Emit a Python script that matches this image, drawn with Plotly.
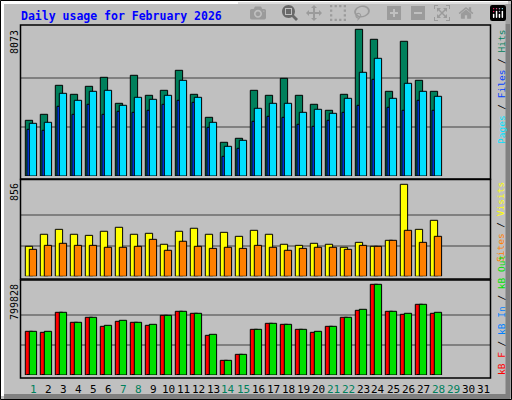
import plotly.graph_objects as go

days = list(range(1, 29))
day_labels = [str(d) for d in range(1, 32)]
weekend_days = [1, 7, 8, 14, 15, 21, 22, 28, 29]

hits = [3065, 3395, 4991, 4496, 4936, 5431, 4001, 5542, 4441, 4716, 5817, 4496, 3230, 1855,
        2075, 4716, 4441, 5376, 4441, 3946, 3616, 4496, 8073, 7523, 4661, 7413, 5266, 4661]
pages = [2900, 2955, 4551, 4166, 4661, 4716, 3891, 4331, 4221, 4441, 5266, 4331, 2955, 1634,
         1965, 3726, 4001, 4001, 3505, 3671, 3450, 4276, 5707, 6477, 4276, 5101, 4661, 4386]
files = [2570, 2515, 3836, 3395, 3946, 3395, 3560, 3505, 3616, 3946, 4166, 4056, 2680, 1084,
         1524, 3010, 3285, 3230, 2845, 2735, 3065, 3505, 3891, 5321, 3781, 3616, 4166, 3616]
visits = [279, 391, 437, 391, 381, 419, 456, 391, 400, 298, 419, 447, 391, 409,
          372, 428, 391, 298, 288, 307, 298, 270, 316, 279, 335, 856, 437, 521]
sites = [251, 288, 307, 288, 288, 270, 270, 279, 344, 242, 326, 279, 260, 270,
         260, 288, 270, 242, 260, 270, 270, 251, 288, 279, 335, 428, 316, 372]
kb_f = [385206, 376384, 552814, 464599, 508707, 429313, 473421, 464599, 438135, 526350,
        561636, 543993, 349920, 129382, 182311, 402849, 455778, 446956, 402849, 376384,
        429313, 508707, 570457, 799828, 561636, 535171, 623386, 543993]
kb_out = [385206, 385206, 552814, 464599, 508707, 438135, 482242, 464599, 446956, 526350,
          561636, 543993, 358741, 129382, 182311, 402849, 455778, 446956, 402849, 385206,
          429313, 508707, 579279, 799828, 561636, 543993, 623386, 552814]
kb_in = [3000] * 28

W, H = 512, 400
def px(x): return x / W
def py(y): return 1 - y / H

fig = go.Figure()
def bar(y, color, off, wid, xa, ya):
    fig.add_trace(go.Bar(x=days, y=y, marker=dict(color=color, line=dict(color="black", width=1)),
                         offset=off, width=wid, xaxis=xa, yaxis=ya, showlegend=False,
                         hoverinfo="skip"))

bar(hits, "#00805C", -0.513, 0.487, "x", "y")
bar(files, "#0040FF", -0.40, 0.17, "x", "y")
bar(pages, "#00E0FF", -0.247, 0.487, "x", "y")
bar(visits, "#FFFF00", -0.513, 0.487, "x2", "y2")
bar(sites, "#FF8000", -0.247, 0.487, "x2", "y2")
bar(kb_f, "#FF0000", -0.513, 0.487, "x3", "y3")
bar(kb_in, "#0080FF", -0.40, 0.17, "x3", "y3")
bar(kb_out, "#00E000", -0.247, 0.487, "x3", "y3")

xr = [(20 - 18) / 15, (490.7 - 18) / 15]
xdom = [px(20), px(490.7)]
mx1, mx2, mx3 = max(hits), max(visits), max(kb_f)
panels = [
    ("", mx1, 176, 25, 146.7),
    ("2", mx2, 276.3, 180, 92),
    ("3", mx3, 375, 280.7, 90.7),
]
lay = dict(width=W, height=H, autosize=False, margin=dict(l=0, r=0, t=0, b=0),
           paper_bgcolor="#C0C0C0", plot_bgcolor="rgba(0,0,0,0)", barmode="overlay",
           showlegend=False)
for s, mx, base, top, hpx in panels:
    ya = "y" + s
    lay["xaxis" + s] = dict(domain=xdom, range=xr, visible=False, anchor=ya)
    rng_top = mx * (base - top) / hpx
    lay["yaxis" + s] = dict(domain=[py(base), py(top)], range=[0, rng_top],
                            tickvals=[mx / 3, 2 * mx / 3], showticklabels=False,
                            gridcolor="#808080", gridwidth=1.5, zeroline=False,
                            showline=False, anchor="x" + s)
fig.update_layout(**lay)

shapes = []
shapes.append(dict(type="rect", xref="paper", yref="paper", x0=px(0.5), x1=px(511.5),
                   y0=py(399.5), y1=py(0.5), line=dict(color="black", width=1)))
shapes.append(dict(type="line", xref="paper", yref="paper", x0=px(1), x1=px(508), y0=py(2.5), y1=py(2.5), line=dict(color="white", width=3)))
shapes.append(dict(type="line", xref="paper", yref="paper", x0=px(2.5), x1=px(2.5), y0=py(1), y1=py(396), line=dict(color="white", width=3)))
shapes.append(dict(type="line", xref="paper", yref="paper", x0=px(508), x1=px(508), y0=py(4), y1=py(398), line=dict(color="#808080", width=5)))
shapes.append(dict(type="line", xref="paper", yref="paper", x0=px(4), x1=px(510), y0=py(396.5), y1=py(396.5), line=dict(color="#808080", width=5)))
for top, bot in [(25, 179), (179.5, 279), (280, 378)]:
    shapes.append(dict(type="rect", xref="paper", yref="paper", x0=px(20.5), x1=px(490.5),
                       y0=py(bot), y1=py(top), line=dict(color="black", width=1.5)))
fig.update_layout(shapes=shapes)

mono = "DejaVu Sans Mono"
ann = []
ann.append(dict(text="<b>Daily usage for February 2026</b>", x=px(19), y=py(16), xref="paper", yref="paper",
                xanchor="left", yanchor="middle", showarrow=False, font=dict(family=mono, size=11.5, color="#0000FF")))
for txt, ytop in [(str(mx1), 28), (str(mx2), 181), (str(mx3), 282)]:
    ann.append(dict(text=txt, x=px(14), y=py(ytop), xref="paper", yref="paper", textangle=-90,
                    xanchor="center", yanchor="top", showarrow=False, font=dict(family=mono, size=10, color="black")))
ann.append(dict(text='<span style="color:#00E0FF">Pages</span> / <span style="color:#0040FF">Files</span> / <span style="color:#00805C">Hits</span>',
                x=px(501), y=py(28), xref="paper", yref="paper", textangle=-90, xanchor="center", yanchor="top",
                showarrow=False, font=dict(family=mono, size=9.5, color="black")))
ann.append(dict(text='<span style="color:#FF8000">Sites</span> / <span style="color:#FFFF00">Visits</span>',
                x=px(501), y=py(180), xref="paper", yref="paper", textangle=-90, xanchor="center", yanchor="top",
                showarrow=False, font=dict(family=mono, size=9.5, color="black")))
ann.append(dict(text='<span style="color:#FF0000">kB F</span> / <span style="color:#0080FF">kB In</span> / <span style="color:#00E000">kB Out</span>',
                x=px(501), y=py(377), xref="paper", yref="paper", textangle=-90, xanchor="center", yanchor="bottom",
                showarrow=False, font=dict(family=mono, size=9.5, color="black")))
for i, lab in enumerate(day_labels):
    d = i + 1
    ann.append(dict(text=lab, x=d, y=py(389), xref="x3", yref="paper", xanchor="center", yanchor="middle",
                    showarrow=False, font=dict(family=mono, size=11, color="#00805C" if d in weekend_days else "black")))
fig.update_layout(annotations=ann)

fig.write_html("out.html", post_script="document.body.style.margin='0';document.body.style.overflow='hidden';")
